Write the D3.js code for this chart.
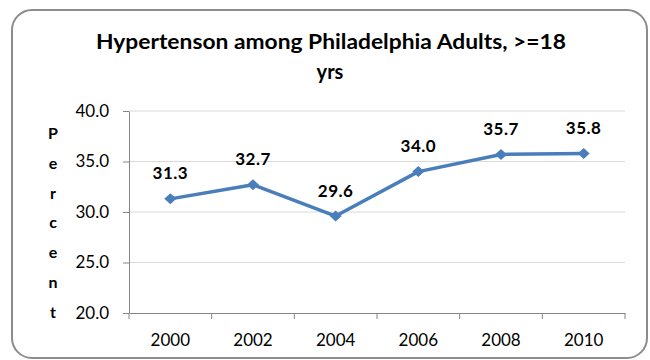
<!DOCTYPE html>
<html>
<head>
<meta charset="utf-8">
<script src="https://cdn.jsdelivr.net/npm/d3@7"></script>
<style>
  html, body { margin: 0; padding: 0; background: #fff; }
  svg { display: block; }
  text { font-family: Lato, "Open Sans", sans-serif; fill: #000; }
</style>
</head>
<body>
<svg id="chart" width="650" height="360"></svg>
<script>
const years = ["2000", "2002", "2004", "2006", "2008", "2010"];
const values = [31.3, 32.7, 29.6, 34.0, 35.7, 35.8];
const yTicks = [20, 25, 30, 35, 40];
const titleLines = ["Hypertenson among Philadelphia  Adults, >=18", "yrs"];
const yTitle = ["P", "e", "r", "c", "e", "n", "t"];

const svg = d3.select("#chart");
const plot = { left: 129, right: 625, top: 111, bottom: 313 };

// frame
svg.append("rect")
  .attr("x", 12).attr("y", 10).attr("width", 635).attr("height", 348)
  .attr("rx", 20).attr("ry", 20)
  .attr("fill", "#fff").attr("stroke", "#8c8c8c").attr("stroke-width", 2);

// title
svg.append("text").attr("x", 331).attr("y", 49).attr("text-anchor", "middle")
  .style("font-size", "20px").style("font-weight", "bold")
  .attr("textLength", 470).attr("lengthAdjust", "spacingAndGlyphs")
  .text(titleLines[0]);
svg.append("text").attr("x", 330).attr("y", 79).attr("text-anchor", "middle")
  .style("font-size", "20px").style("font-weight", "bold")
  .text(titleLines[1]);

const x = d3.scaleBand().domain(years).range([plot.left, plot.right]);
const y = d3.scaleLinear().domain([20, 40]).range([plot.bottom, plot.top]);

// gridlines
svg.append("g").selectAll("line").data(yTicks.filter(d => d > 20)).join("line")
  .attr("x1", plot.left).attr("x2", plot.right)
  .attr("y1", d => y(d)).attr("y2", d => y(d))
  .attr("stroke", "#d9d9d9").attr("stroke-width", 1);

// y axis
const yAxis = svg.append("g").attr("transform", `translate(${plot.left},0)`)
  .call(d3.axisLeft(y).tickValues(yTicks).tickFormat(d3.format(".1f"))
    .tickSize(6).tickSizeOuter(0).tickPadding(14));
yAxis.select(".domain").attr("stroke", "#868686");
yAxis.selectAll(".tick line").attr("stroke", "#868686");
yAxis.selectAll("text").style("font-size", "17px").style("font-family", "Lato, sans-serif").attr("fill", "#111");

// x axis
const xAxis = svg.append("g").attr("transform", `translate(0,${plot.bottom})`)
  .call(d3.axisBottom(x).tickSize(0).tickSizeOuter(0).tickPadding(21));
xAxis.select(".domain").attr("stroke", "#868686");
xAxis.selectAll("text").style("font-size", "17px").style("font-family", "Lato, sans-serif").attr("fill", "#111");
const bounds = years.map(d => x(d)).concat([x.range()[1]]);
xAxis.append("g").selectAll("line").data(bounds).join("line")
  .attr("x1", d => d).attr("x2", d => d).attr("y1", 0).attr("y2", 6)
  .attr("stroke", "#868686");

// y title stacked letters
svg.append("g").selectAll("text").data(yTitle).join("text")
  .attr("x", 53).attr("y", (d, i) => 139 + i * 29.8)
  .attr("text-anchor", "middle")
  .style("font-size", "16px").style("font-weight", "bold")
  .text(d => d);

// line
const pts = years.map((d, i) => ({ year: d, v: values[i] }));
const cx = d => x(d.year) + x.bandwidth() / 2;
svg.append("path").datum(pts)
  .attr("d", d3.line().x(cx).y(d => y(d.v)))
  .attr("fill", "none").attr("stroke", "#4a7ebb").attr("stroke-width", 3.5)
  .attr("stroke-linejoin", "round");

// markers
svg.append("g").selectAll("path").data(pts).join("path")
  .attr("transform", d => `translate(${cx(d)},${y(d.v)})`)
  .attr("d", "M0,-5.5L6,0L0,5.5L-6,0Z")
  .attr("fill", "#4a7ebb");

// data labels
svg.append("g").selectAll("text").data(pts).join("text")
  .attr("x", cx).attr("y", d => y(d.v) - 19.5)
  .attr("text-anchor", "middle")
  .style("font-size", "17px").style("font-weight", "bold").style("letter-spacing", "0.5px")
  .text(d => d.v.toFixed(1));
</script>
</body>
</html>
